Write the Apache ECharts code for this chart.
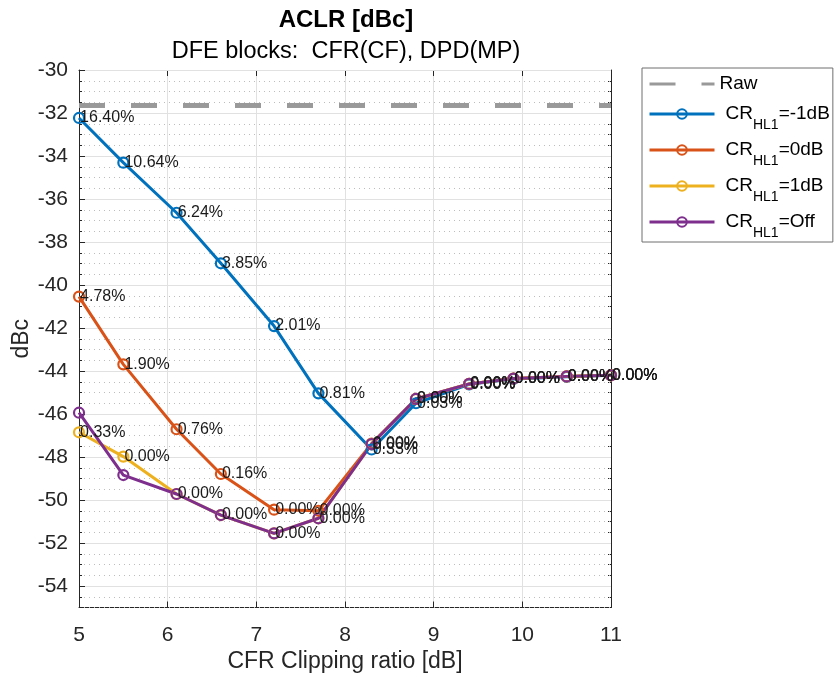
<!DOCTYPE html>
<html>
<head>
<meta charset="utf-8">
<title>ACLR [dBc]</title>
<script src="https://cdn.jsdelivr.net/npm/echarts@6/dist/echarts.min.js"></script>
<style>
  html, body { margin: 0; padding: 0; background: #fff; }
  #chart { width: 837px; height: 682px; }
</style>
</head>
<body>
<div id="chart"></div>
<script>
// CFR clipping ratio sweep (dB)
const clippingRatio = [5, 5.5, 6.1, 6.6, 7.2, 7.7, 8.3, 8.8, 9.4, 9.9, 10.5, 11];

// ACLR of the un-processed signal (dBc)
const rawLevel = -31.65;

// ACLR per HL1 clipping setting (dBc)
const aclrMinus1dB = [-32.23, -34.31, -36.64, -38.99, -41.91, -45.04, -47.65, -45.5, -44.62, -44.37, -44.27, -44.2];
const aclr0dB      = [-40.54, -43.69, -46.71, -48.79, -50.45, -50.5, -47.38, -45.3, -44.6, -44.35, -44.25, -44.2];
const aclr1dB      = [-46.85, -47.98, -49.72, -50.7, -51.55, -50.85, -47.4, -45.3, -44.6, -44.35, -44.25, -44.2];
const aclrOff      = [-45.94, -48.84, -49.72, -50.7, -51.55, -50.85, -47.4, -45.3, -44.6, -44.35, -44.25, -44.2];

// Share of clipped samples printed next to each point
const clipPctMinus1dB = ['16.40%', '10.64%', '6.24%', '3.85%', '2.01%', '0.81%', '0.33%', '0.03%', '0.00%', '0.00%', '0.00%', '0.00%'];
const clipPct0dB      = ['4.78%', '1.90%', '0.76%', '0.16%', '0.00%', '0.00%', '0.00%', '0.00%', '0.00%', '0.00%', '0.00%', '0.00%'];
const clipPct1dB      = ['0.33%', '0.00%', '0.00%', '0.00%', '0.00%', '0.00%', '0.00%', '0.00%', '0.00%', '0.00%', '0.00%', '0.00%'];

// Axis ticks
const xTicks = [5, 6, 7, 8, 9, 10, 11];
const yTicks = [-54, -52, -50, -48, -46, -44, -42, -40, -38, -36, -34, -32, -30];

const FONT = '"Liberation Sans", Arial, Helvetica, sans-serif';
const AXIS_COLOR = '#262626';
const GRID_COLOR = '#e1e1e1';
const MINOR_COLOR = '#bdbdbd';

function pairs(ys) {
  return clippingRatio.map((x, i) => [x, ys[i]]);
}

function curve(name, color, ys, pct) {
  return {
    name: name,
    type: 'line',
    xAxisIndex: 0,
    yAxisIndex: 0,
    data: pairs(ys),
    symbol: 'circle',
    symbolSize: 10,
    lineStyle: { color: color, width: 3 },
    itemStyle: { color: 'rgba(255,255,255,0)', borderColor: color, borderWidth: 2.2 },
    emphasis: { disabled: true },
    label: pct ? {
      show: true,
      position: 'right',
      distance: -5,
      offset: [0, 3],
      fontSize: 16,
      fontFamily: FONT,
      color: '#1a1a1a',
      formatter: p => pct[p.dataIndex]
    } : { show: false },
    labelLayout: { hideOverlap: false },
    z: 3
  };
}

const legendNames = {
  'Raw': 'Raw',
  'CR_HL1=-1dB': '{c|CR}{s|HL1}{m|=-1dB}',
  'CR_HL1=0dB': '{c|CR}{s|HL1}{m|=0dB}',
  'CR_HL1=1dB': '{c|CR}{s|HL1}{m|=1dB}',
  'CR_HL1=Off': '{c|CR}{s|HL1}{m|=Off}'
};

const chart = echarts.init(document.getElementById('chart'), null, { renderer: 'canvas' });

chart.setOption({
  animation: false,
  backgroundColor: '#ffffff',
  textStyle: { fontFamily: FONT },
  title: {
    text: 'ACLR [dBc]',
    subtext: 'DFE blocks:  CFR(CF), DPD(MP)',
    left: 346,
    top: 8,
    padding: 0,
    textAlign: 'center',
    itemGap: 8,
    textStyle: { fontSize: 24, fontWeight: 'bold', color: '#000', fontFamily: FONT },
    subtextStyle: { fontSize: 23.5, color: '#000', fontFamily: FONT }
  },
  legend: {
    orient: 'vertical',
    left: 642,
    top: 68,
    padding: [4, 3, 2, 6],
    itemGap: 0,
    itemWidth: 65,
    itemHeight: 12,
    backgroundColor: '#fff',
    borderColor: '#6e6e6e',
    borderWidth: 1,
    borderRadius: 0,
    selectedMode: false,
    lineStyle: { width: 3 },
    data: ['Raw', 'CR_HL1=-1dB', 'CR_HL1=0dB', 'CR_HL1=1dB', 'CR_HL1=Off'],
    formatter: n => legendNames[n],
    textStyle: {
      fontSize: 19,
      color: '#000',
      fontFamily: FONT,
      lineHeight: 24,
      rich: {
        c: { fontSize: 19, fontFamily: FONT, color: '#000', lineHeight: 36, verticalAlign: 'middle', padding: [0, 0, 0, 6] },
        m: { fontSize: 19, fontFamily: FONT, color: '#000', lineHeight: 36, verticalAlign: 'middle' },
        s: { fontSize: 14, fontFamily: FONT, color: '#000', verticalAlign: 'bottom' }
      }
    }
  },
  grid: { left: 79, right: 226, top: 70, bottom: 74.5, containLabel: false, outerBoundsMode: 'none' },
  xAxis: [
    {
      type: 'value', position: 'bottom', min: 5, max: 11, interval: 1,
      name: 'CFR Clipping ratio [dB]', nameLocation: 'middle', nameGap: 43, nameMoveOverlap: false,
      nameTextStyle: { fontSize: 23, color: AXIS_COLOR, fontFamily: FONT },
      axisLine: { show: true, onZero: false, lineStyle: { color: AXIS_COLOR, width: 1 } },
      axisTick: { show: true, inside: true, length: 6, lineStyle: { color: AXIS_COLOR } },
      axisLabel: { fontSize: 21, color: AXIS_COLOR, margin: 17, fontFamily: FONT, customValues: xTicks },
      splitLine: { show: true, lineStyle: { color: GRID_COLOR, width: 1 } }
    },
    {
      type: 'value', position: 'top', min: 5, max: 11, interval: 1,
      axisLine: { show: true, onZero: false, lineStyle: { color: AXIS_COLOR, width: 1 } },
      axisTick: { show: true, inside: true, length: 6, lineStyle: { color: AXIS_COLOR } },
      axisLabel: { show: false },
      splitLine: { show: false }
    }
  ],
  yAxis: [
    {
      type: 'value', position: 'left', min: -55, max: -30,
      name: 'dBc', nameLocation: 'middle', nameGap: 46, nameRotate: 90, nameMoveOverlap: false,
      nameTextStyle: { fontSize: 23, color: AXIS_COLOR, fontFamily: FONT },
      axisLine: { show: true, onZero: false, lineStyle: { color: AXIS_COLOR, width: 1 } },
      axisTick: { show: true, inside: true, length: 6, lineStyle: { color: AXIS_COLOR }, customValues: yTicks },
      axisLabel: { fontSize: 21, color: AXIS_COLOR, margin: 11, fontFamily: FONT, customValues: yTicks },
      splitLine: { show: true, lineStyle: { color: GRID_COLOR, width: 1 } },
      z: 2
    },
    {
      // minor grid every 0.5 dB
      type: 'value', position: 'left', min: -55, max: -30, interval: 0.5,
      axisLine: { show: false },
      axisTick: { show: true, inside: true, length: 3, lineStyle: { color: AXIS_COLOR } },
      axisLabel: { show: false },
      splitLine: { show: true, lineStyle: { color: MINOR_COLOR, width: 1, type: [1, 4] } },
      z: 1
    },
    {
      type: 'value', position: 'right', min: -55, max: -30,
      axisLine: { show: true, onZero: false, lineStyle: { color: AXIS_COLOR, width: 1 } },
      axisTick: { show: true, inside: true, length: 6, lineStyle: { color: AXIS_COLOR }, customValues: yTicks },
      axisLabel: { show: false, customValues: yTicks },
      splitLine: { show: false }
    },
    {
      type: 'value', position: 'right', min: -55, max: -30, interval: 0.5,
      axisLine: { show: false },
      axisTick: { show: true, inside: true, length: 3, lineStyle: { color: AXIS_COLOR } },
      axisLabel: { show: false },
      splitLine: { show: false }
    }
  ],
  series: [
    {
      name: 'Raw',
      type: 'line',
      data: [[clippingRatio[0], rawLevel], [xTicks[xTicks.length - 1], rawLevel]],
      symbol: 'none',
      lineStyle: { color: '#999999', width: 5, type: [26, 26] },
      itemStyle: { color: 'rgba(0,0,0,0)', borderWidth: 0 },
      emphasis: { disabled: true },
      z: 2
    },
    curve('CR_HL1=-1dB', '#0072BD', aclrMinus1dB, clipPctMinus1dB),
    curve('CR_HL1=0dB', '#D95319', aclr0dB, clipPct0dB),
    curve('CR_HL1=1dB', '#EDB120', aclr1dB, clipPct1dB),
    curve('CR_HL1=Off', '#7E2F8E', aclrOff, null)
  ]
});
</script>
</body>
</html>
